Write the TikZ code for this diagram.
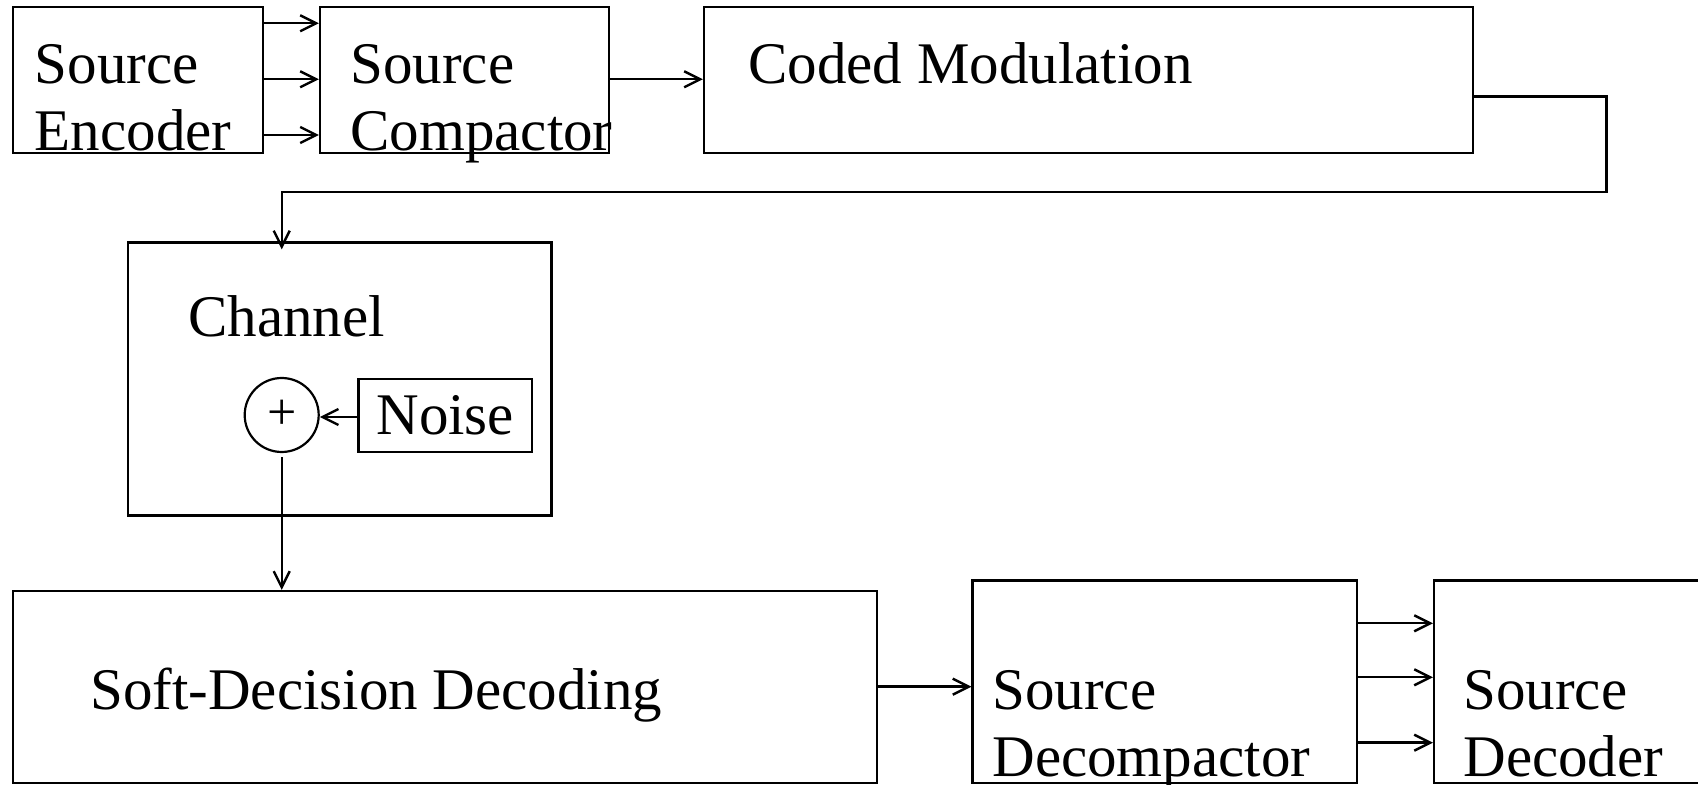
\documentclass[tikz,border=0pt]{standalone}
\usepackage{fontspec}
\setmainfont{Liberation Serif}
\usetikzlibrary{arrows.meta,fit}
% two stacked lines, aligned on the baseline of the first one
\newcommand\stackedlabel[2]{\begin{tabular}[t]{@{}l@{}}#1\\#2\end{tabular}}
\begin{document}
\begin{tikzpicture}[x=0.5pt,y=-0.5pt,
  box/.style={draw, line width=1.1pt, inner sep=0pt},
  lbl/.style={inner sep=0pt, anchor=base west, font=\fontsize{29.5}{33.7}\selectfont},
  arr/.style={draw, line width=1.2pt, -{Straight Barb[length=8pt,width=8pt]}}]
\useasboundingbox (0,0) rectangle (1698,785);
\clip (0,0) rectangle (1698,785);

% transmitter chain
\node[box, fit={(13,7) (263,153)}] (enc) {};
\node[box, fit={(320,7) (609,153)}] (cmp) {};
\node[box, fit={(704,7) (1473,153)}] (mod) {};
\node[lbl] (encT) at (34.5,83.3) {\stackedlabel{Source}{Encoder}};
\node[lbl] (cmpT) at (350,83.3) {\stackedlabel{Source}{Compactor}};
\node[lbl] (modT) at (748,83.3) {Coded Modulation};

% channel with additive noise
\node[box, fit={(128,242.5) (551.5,515.5)}] (chan) {};
\node[lbl] (chanT) at (188,336.7) {Channel};
\node[box, minimum width=86.75pt, minimum height=36.35pt,
      font=\fontsize{29.5}{33.7}\selectfont] (noise) at (445.25,415.35) {Noise};
\node[circle, draw, line width=1.1pt, inner sep=0pt, minimum size=37pt,
      font=\fontsize{26}{26}\selectfont] (sum) at (281.7,415) {+};

% receiver chain
\node[box, fit={(13,591) (877,783)}] (soft) {};
\node[box, fit={(972.5,580.5) (1357,783)}] (dcmp) {};
\node[box, fit={(1434,580.5) (1760,783)}] (dec) {};
\node[lbl] (softT) at (90,709.3) {Soft-Decision Decoding};
\node[lbl] (dcmpT) at (992,709.3) {\stackedlabel{Source}{Decompactor}};
\node[lbl] (decT) at (1463,709.3) {\stackedlabel{Source}{Decoder}};

% connectors
\foreach \yy in {23.3,79.3,135}
  \draw[arr] (enc.east |- 0,\yy) -- (cmp.west |- 0,\yy);
\draw[arr] (cmp.east |- 0,79.3) -- (mod.west |- 0,79.3);

\coordinate (turn) at (1606.6,192.3);
\draw[arr] (mod.east |- 0,96.7) -| (turn) -- (turn -| sum)
  -- ([yshift=-4pt]sum |- chan.north);

\draw[arr] (noise.west |- 0,417) -- (sum.east |- 0,417);
\draw[arr] ([yshift=-2pt]sum.south) -- (sum |- soft.north);

\draw[arr] (soft.east |- 0,686.7) -- (dcmp.west |- 0,686.7);
\foreach \yy in {623.3,677.3,742.7}
  \draw[arr] (dcmp.east |- 0,\yy) -- (dec.west |- 0,\yy);
\end{tikzpicture}
\end{document}
